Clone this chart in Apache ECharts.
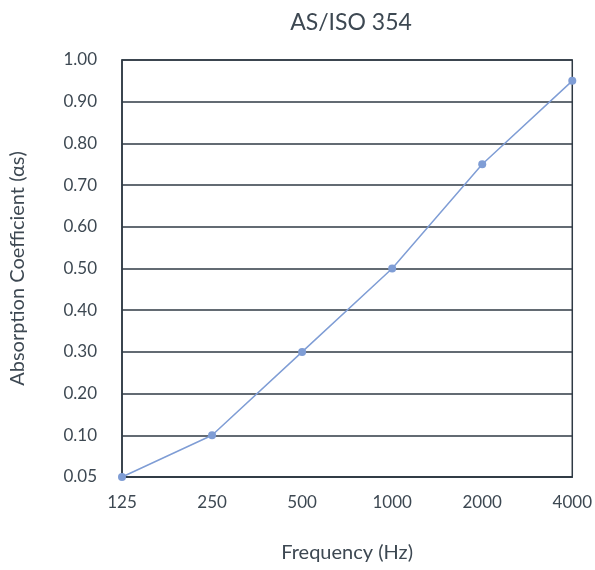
<!DOCTYPE html>
<html>
<head>
<meta charset="utf-8">
<script src="https://cdn.jsdelivr.net/npm/echarts@6/dist/echarts.min.js"></script>
<style>html,body{margin:0;padding:0;background:#fff}#c{width:595px;height:570px}</style>
</head>
<body>
<div id="c"></div>
<script>
const categories = ['125', '250', '500', '1000', '2000', '4000'];
const absorption = [0.05, 0.10, 0.30, 0.50, 0.75, 0.95];
const yTickLabels = ['0.05', '0.10', '0.20', '0.30', '0.40', '0.50', '0.60', '0.70', '0.80', '0.90', '1.00'];

// The y axis is drawn with evenly spaced ticks: 0.05, 0.10, 0.20 ... 1.00
function toAxis(v) { return v < 0.1 ? (v - 0.05) / 0.05 : v * 10; }

const textColor = '#3d4852';
const font = 'Lato, "Noto Sans", sans-serif';
const chart = echarts.init(document.getElementById('c'), null, {renderer: 'canvas'});
chart.setOption({
  backgroundColor: '#fff',
  animation: false,
  title: {
    text: 'AS/ISO 354', left: 346, top: 6, textAlign: 'center',
    textStyle: {color: textColor, fontSize: 23, fontWeight: 'normal', fontFamily: font}
  },
  grid: {left: 120, right: 18, top: 60, bottom: 93, show: true, borderColor: '#2f3a44', borderWidth: 1.5, backgroundColor: 'transparent'},
  xAxis: {
    type: 'category', data: categories, boundaryGap: false,
    name: 'Frequency (Hz)', nameLocation: 'middle', nameGap: 66,
    nameTextStyle: {color: textColor, fontSize: 20, fontFamily: font},
    axisLine: {show: true, lineStyle: {color: '#2f3a44', width: 1.5}},
    axisTick: {show: false},
    axisLabel: {color: textColor, fontSize: 17, fontFamily: font, margin: 17},
    splitLine: {show: false}
  },
  yAxis: {
    type: 'value', min: 0, max: 10, interval: 1,
    name: 'Absorption Coefficient (αs)', nameLocation: 'middle', nameGap: 94,
    nameTextStyle: {color: textColor, fontSize: 20, fontFamily: font},
    axisLine: {show: true, lineStyle: {color: '#2f3a44', width: 1.5}},
    axisTick: {show: false},
    axisLabel: {color: textColor, fontSize: 17, fontFamily: font, margin: 25,
      formatter: function (v) { return yTickLabels[Math.round(v)] || ''; }},
    splitLine: {show: true, lineStyle: {color: '#2f3a44', width: 1.5}}
  },
  series: [{
    type: 'line',
    data: absorption.map(toAxis),
    symbol: 'circle', symbolSize: 8,
    lineStyle: {color: '#7f9dd5', width: 1.5},
    itemStyle: {color: '#7f9dd5'}
  }]
});
</script>
</body>
</html>
